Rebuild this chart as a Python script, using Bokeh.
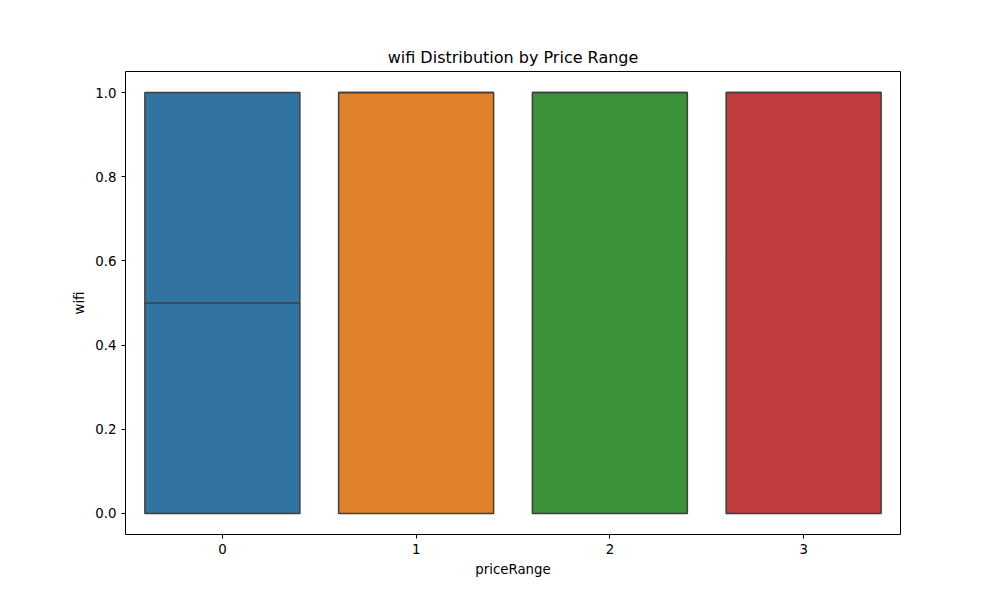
from bokeh.plotting import figure
from bokeh.embed import file_html
from bokeh.resources import INLINE
from bokeh.models import FixedTicker, Range1d, CustomJSTickFormatter

categories = [0, 1, 2, 3]
q1 = [0.0, 0.0, 0.0, 0.0]
median = [0.5, 1.0, 1.0, 1.0]
q3 = [1.0, 1.0, 1.0, 1.0]
colors = ["#3274a1", "#e1812c", "#3a923a", "#c03d3e"]

p = figure(frame_width=775, frame_height=463, min_border_left=125, min_border_right=80,
           min_border_top=71, min_border_bottom=40,
           x_range=Range1d(-0.5, 3.5), y_range=Range1d(-0.05, 1.05),
           output_backend="svg", toolbar_location=None,
           title="wifi Distribution by Price Range")
p.vbar(x=categories, width=0.8, bottom=q1, top=q3, fill_color=colors,
       line_color="#3f3f3f", line_width=1.5)
p.segment(x0=[c - 0.4 for c in categories], x1=[c + 0.4 for c in categories],
          y0=median, y1=median, line_color="#3f3f3f", line_width=1.5)

p.xaxis.ticker = FixedTicker(ticks=categories)
p.yaxis.ticker = FixedTicker(ticks=[0.0, 0.2, 0.4, 0.6, 0.8, 1.0])
p.yaxis.formatter = CustomJSTickFormatter(code="return tick.toFixed(1)")
p.xaxis.axis_label = "priceRange"
p.yaxis.axis_label = "wifi"
for ax in (p.xaxis, p.yaxis):
    ax.axis_label_text_font = "DejaVu Sans"
    ax.axis_label_text_font_style = "normal"
    ax.axis_label_text_font_size = "10pt"
    ax.axis_label_text_color = "black"
    ax.major_label_text_font = "DejaVu Sans"
    ax.major_label_text_font_size = "10pt"
    ax.major_label_text_color = "black"
    ax.minor_tick_line_color = None
    ax.major_tick_line_color = "black"
    ax.major_tick_out = 4
    ax.major_tick_in = 0
    ax.axis_line_color = None
p.title.text_font = "DejaVu Sans"
p.title.text_font_size = "12pt"
p.title.text_font_style = "normal"
p.title.text_color = "black"
p.title.align = "center"
p.xgrid.visible = False
p.ygrid.visible = False
p.outline_line_color = "black"
p.outline_line_alpha = 1

open("out.html", "w").write(file_html(p, INLINE))
